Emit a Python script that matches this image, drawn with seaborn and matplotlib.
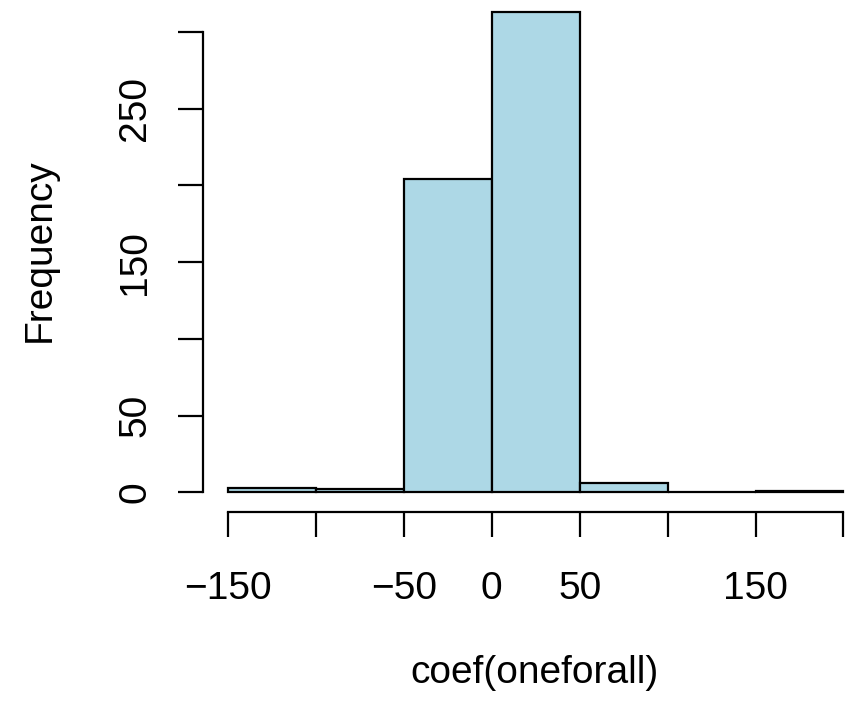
import numpy as np
import pandas as pd
import seaborn as sns
import matplotlib.pyplot as plt

# histogram bins
bin_edges = [-150, -100, -50, 0, 50, 100, 150, 200]
counts = [3, 2, 204, 313, 6, 0, 1]
x_ticks = [-150, -100, -50, 0, 50, 100, 150, 200]
x_tick_labels = ["\u2212150", "", "\u221250", "0", "50", "", "150", ""]
y_ticks = [0, 50, 100, 150, 200, 250, 300]
y_tick_labels = ["0", "50", "", "150", "", "250", ""]


def plot_hist():
    sns.set_style("white")
    plt.rcParams["font.family"] = ["Liberation Sans", "DejaVu Sans"]

    centers = [(a + b) / 2 for a, b in zip(bin_edges[:-1], bin_edges[1:])]
    df = pd.DataFrame({"coef": centers, "n": counts})

    W, H = 859, 702
    fig = plt.figure(figsize=(W / 100, H / 100), dpi=100)
    # plot region in pixels (R style, partly outside the picture)
    left, right, bottom, top = 203.3, 868.1, 511.7, -7.2
    ax = fig.add_axes([left / W, 1 - bottom / H, (right - left) / W, (bottom - top) / H])

    sns.histplot(data=df, x="coef", weights="n", bins=bin_edges, ax=ax,
                 color="#ADD8E6", alpha=1, edgecolor="black", linewidth=1.6)

    # R style 4% padding
    xr = bin_edges[-1] - bin_edges[0]
    ax.set_xlim(bin_edges[0] - 0.04 * xr, bin_edges[-1] + 0.04 * xr)
    ym = max(counts)
    ax.set_ylim(-0.04 * ym, 1.04 * ym)

    for s in ["top", "right"]:
        ax.spines[s].set_visible(False)
    ax.spines["left"].set_bounds(0, 300)
    ax.spines["bottom"].set_bounds(-150, 200)
    for s in ["left", "bottom"]:
        ax.spines[s].set_linewidth(1.6)
        ax.spines[s].set_color("black")

    ax.set_xticks(x_ticks)
    ax.set_xticklabels(x_tick_labels)
    ax.set_yticks(y_ticks)
    ax.set_yticklabels(y_tick_labels, rotation=90, va="center")
    ax.tick_params(axis="both", direction="out", length=18, width=1.6,
                   labelsize=28, colors="black", bottom=True, left=True)
    ax.tick_params(axis="x", pad=25)
    ax.tick_params(axis="y", pad=18)

    ax.set_xlabel("coef(oneforall)", fontsize=28, color="black")
    ax.set_ylabel("Frequency", fontsize=28, color="black")
    ax.xaxis.set_label_coords((535 - left) / (right - left), (bottom - 683) / (bottom - top))
    ax.xaxis.label.set_va("baseline")
    ax.yaxis.set_label_coords((50 - left) / (right - left), (bottom - 250) / (bottom - top))
    ax.yaxis.label.set_va("baseline")

    fig.savefig("out.png", dpi=100)


if __name__ == "__main__":
    plot_hist()
